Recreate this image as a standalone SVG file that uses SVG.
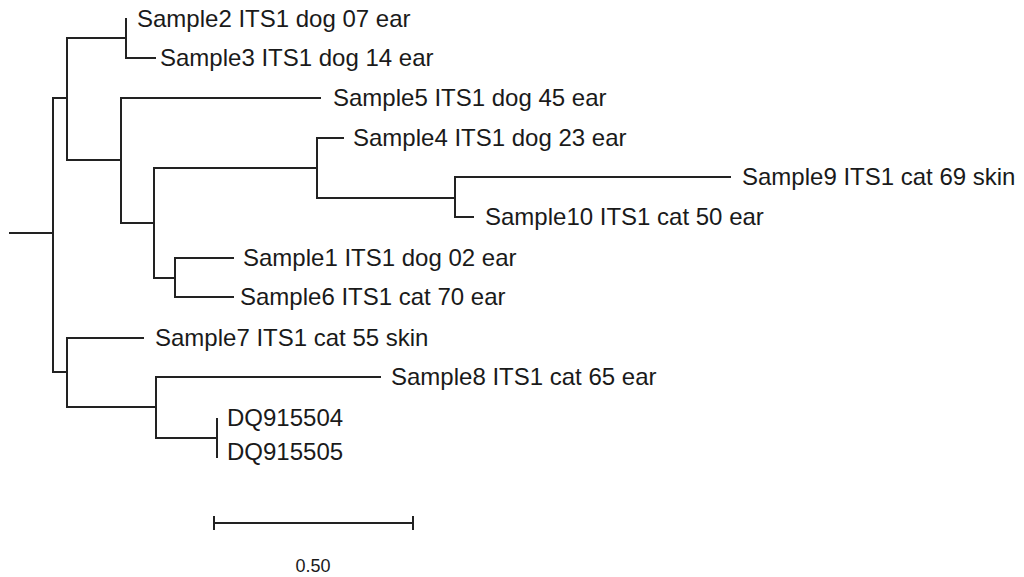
<svg xmlns="http://www.w3.org/2000/svg" width="1024" height="577" viewBox="0 0 1024 577">
<style>
.br{fill:none;stroke:#222;stroke-width:2;stroke-linecap:square}
.lb{font-family:"Liberation Sans",Arial,sans-serif;font-size:24px;fill:#1a1a1a}
.sc{font-family:"Liberation Sans",Arial,sans-serif;font-size:18px;fill:#1a1a1a}
</style>
<rect width="1024" height="577" fill="#fff"/>
<g id="connectors" class="br">
<path d="M10 233H53M53 98V372"/>
<path d="M53 98H67M67 38V160"/>
<path d="M67 38H126M126 19V58M126 58H155"/>
<path d="M67 160H121M121 98V223M121 98H320"/>
<path d="M121 223H154M154 168V278"/>
<path d="M154 168H317M317 138V198M317 138H343"/>
<path d="M317 198H455M455 177V217M455 177H730M455 217H473"/>
<path d="M154 278H175M175 258V297M175 258H233M175 297H233"/>
<path d="M53 372H67M67 338V407M67 338H143"/>
<path d="M67 407H156M156 377V438M156 377H380"/>
<path d="M156 438H217M217 419V457"/>
</g>
<g id="Sample2"><text class="lb" x="137" y="27">Sample2 ITS1 dog 07 ear</text></g>
<g id="Sample3"><text class="lb" x="160" y="66">Sample3 ITS1 dog 14 ear</text></g>
<g id="Sample5"><text class="lb" x="333" y="106">Sample5 ITS1 dog 45 ear</text></g>
<g id="Sample4"><text class="lb" x="353" y="146">Sample4 ITS1 dog 23 ear</text></g>
<g id="Sample9"><text class="lb" x="742" y="185">Sample9 ITS1 cat 69 skin</text></g>
<g id="Sample10"><text class="lb" x="485" y="225">Sample10 ITS1 cat 50 ear</text></g>
<g id="Sample1"><text class="lb" x="243" y="266">Sample1 ITS1 dog 02 ear</text></g>
<g id="Sample6"><text class="lb" x="240" y="305">Sample6 ITS1 cat 70 ear</text></g>
<g id="Sample7"><text class="lb" x="155" y="346">Sample7 ITS1 cat 55 skin</text></g>
<g id="Sample8"><text class="lb" x="391" y="385">Sample8 ITS1 cat 65 ear</text></g>
<g id="DQ915504"><text class="lb" x="227" y="426">DQ915504</text></g>
<g id="DQ915505"><text class="lb" x="227" y="460">DQ915505</text></g>
<g id="scalebar">
<path class="br" d="M214 523H413M214 517V529M413 517V529"/>
<text class="sc" x="313" y="572" text-anchor="middle">0.50</text>
</g>
</svg>
